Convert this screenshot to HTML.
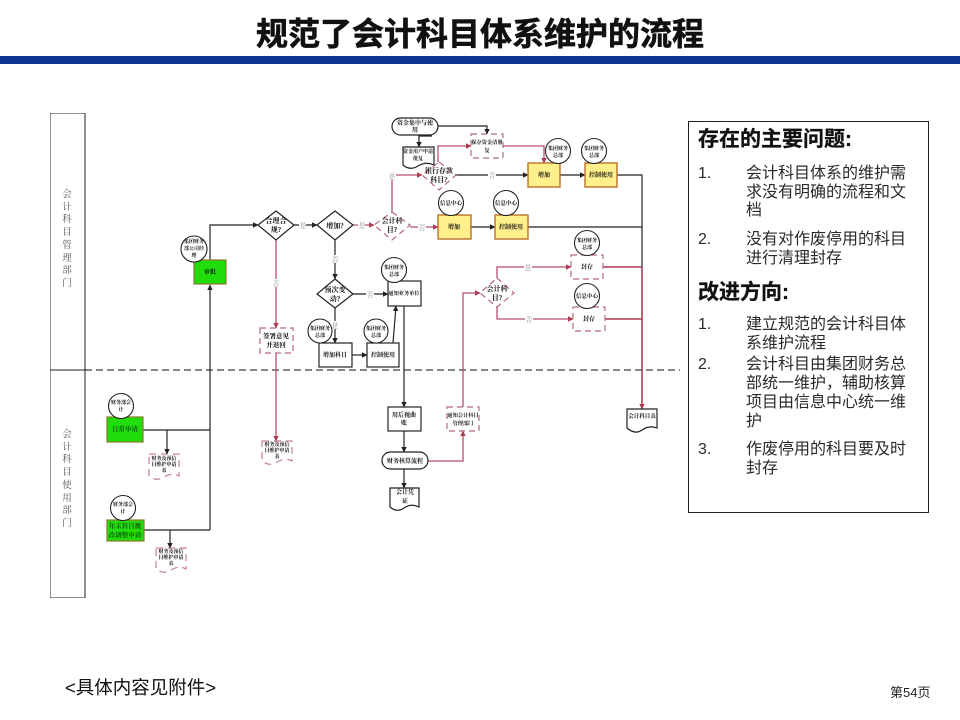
<!DOCTYPE html>
<html lang="zh"><head><meta charset="utf-8"><style>
html,body{margin:0;padding:0;background:#fff}
svg{display:block}
.s{font-family:"Liberation Sans","Noto Sans CJK SC",sans-serif}
.n{font-family:"Liberation Serif","Noto Serif CJK SC",serif;font-weight:700;font-size:6px;text-anchor:middle;fill:#111}
.m{font-size:7px}
.l{font-family:"Liberation Serif","Noto Serif CJK SC",serif;font-size:7px;text-anchor:middle;fill:#999}
.b{fill:#fff;stroke:#222;stroke-width:1.2}
.g{fill:#22dd11;stroke:#8a7a2a;stroke-width:1.2}
.y{fill:#fff08c;stroke:#b5651d;stroke-width:1.3}
.d{fill:#fff;stroke:#b56a80;stroke-width:1.2;stroke-dasharray:6 4}
.k{fill:none;stroke:#222;stroke-width:1.2}
.p{fill:none;stroke:#b8506a;stroke-width:1.3}
.q{fill:none;stroke:#a83a52;stroke-width:1.6}
.t{font-size:16px;fill:#2a2a2a}
.h{font-size:21px;font-weight:700;fill:#111;stroke:#111;stroke-width:.3}
.lane{font-family:"Liberation Serif","Noto Serif CJK SC",serif;font-size:9.5px;fill:#555;text-anchor:middle}
</style></head><body>
<svg class="s" width="960" height="720" viewBox="0 0 960 720" xmlns="http://www.w3.org/2000/svg">
<defs>
<marker id="a" markerWidth="6" markerHeight="6" refX="5" refY="3" orient="auto" markerUnits="userSpaceOnUse"><path d="M0,0.3L5.5,3L0,5.7z" fill="#222"/></marker>
<marker id="r" markerWidth="6" markerHeight="6" refX="5" refY="3" orient="auto" markerUnits="userSpaceOnUse"><path d="M0,0.3L5.5,3L0,5.7z" fill="#b03a55"/></marker>
<filter id="soft" x="0" y="0" width="100%" height="100%"><feGaussianBlur stdDeviation="0.3"/></filter>
</defs>
<rect width="960" height="720" fill="#fff"/>
<text x="480" y="45" text-anchor="middle" font-size="32" font-weight="700" fill="#111" stroke="#111" stroke-width=".6">规范了会计科目体系维护的流程</text>
<rect x="0" y="56" width="960" height="8" fill="#0c3590"/>

<g filter="url(#soft)">
<rect x="50" y="113" width="35" height="485" fill="#fff" stroke="#222" stroke-width="1"/>
<line x1="50" y1="370" x2="85" y2="370" stroke="#222"/>
<line x1="85" y1="370" x2="680" y2="370" stroke="#111" stroke-width="1.1" stroke-dasharray="7 4"/>
<g class="lane">
<text x="67" y="197">会</text><text x="67" y="210">计</text><text x="67" y="222">科</text><text x="67" y="235">目</text><text x="67" y="248">管</text><text x="67" y="261">理</text><text x="67" y="273">部</text><text x="67" y="286">门</text>
<text x="67" y="437">会</text><text x="67" y="450">计</text><text x="67" y="462">科</text><text x="67" y="475">目</text><text x="67" y="488">使</text><text x="67" y="501">用</text><text x="67" y="513">部</text><text x="67" y="526">门</text>
</g>

<!-- connectors -->
<path class="k" d="M210,260V225H258" marker-end="url(#a)"/>
<path class="k" d="M294,225H317" marker-end="url(#a)"/>
<path class="k" d="M210,530V285" marker-end="url(#a)"/>
<path class="k" d="M143,430H210"/>
<path class="k" d="M144,530H210"/>
<path class="k" d="M167,430V454" marker-end="url(#a)"/>
<path class="k" d="M170,530V548" marker-end="url(#a)"/>
<path class="k" d="M335,240V279" marker-end="url(#a)"/>
<path class="k" d="M353,294H388" marker-end="url(#a)"/>
<path class="k" d="M335,308V343" marker-end="url(#a)"/>
<path class="k" d="M352,355H367" marker-end="url(#a)"/>
<path class="k" d="M393,343L396,306" marker-end="url(#a)"/>
<path class="k" d="M404,306V407" marker-end="url(#a)"/>
<path class="k" d="M404,431V452" marker-end="url(#a)"/>
<path class="k" d="M404,469V488" marker-end="url(#a)"/>
<path class="k" d="M438,126H487V134" marker-end="url(#a)"/>
<path class="k" d="M432,136H419V147" marker-end="url(#a)"/>
<path class="k" d="M456,175H528" marker-end="url(#a)"/>
<path class="k" d="M560,175H585" marker-end="url(#a)"/>
<path class="k" d="M617,175H642V267"/>
<path class="k" d="M471,227H495" marker-end="url(#a)"/>
<path class="k" d="M528,227H642"/>
<path class="p" d="M276,240V328" marker-end="url(#r)"/>
<path class="p" d="M276,353V441" marker-end="url(#r)"/>
<path class="p" d="M353,225H374" marker-end="url(#r)"/>
<path class="p" d="M392,212V175H422" marker-end="url(#r)"/>
<path class="p" d="M410,227H438" marker-end="url(#r)"/>
<path class="p" d="M438,162V146H471" marker-end="url(#r)"/>
<path class="p" d="M503,146H544V163" marker-end="url(#r)"/>
<path class="p" d="M428,461H463V431" marker-end="url(#r)"/>
<path class="p" d="M463,407V293H480" marker-end="url(#r)"/>
<path class="p" d="M497,278V267H571" marker-end="url(#r)"/>
<path class="p" d="M497,307V319H573" marker-end="url(#r)"/>
<path class="q" d="M603,267H642M605,319H642M642,267V409" marker-end="url(#r)"/>

<!-- connector labels -->
<g>
<rect x="299" y="221" width="7" height="8" fill="#fff"/><text class="l" x="303" y="228">是</text>
<rect x="358" y="221" width="7" height="8" fill="#fff"/><text class="l" x="362" y="228">是</text>
<rect x="272" y="279" width="8" height="8" fill="#fff"/><text class="l" x="276" y="286">否</text>
<rect x="331" y="255" width="8" height="8" fill="#fff"/><text class="l" x="335" y="262">否</text>
<rect x="366" y="290" width="8" height="8" fill="#fff"/><text class="l" x="370" y="297">否</text>
<rect x="331" y="321" width="8" height="8" fill="#fff"/><text class="l" x="335" y="328">是</text>
<rect x="388" y="172" width="8" height="8" fill="#fff"/><text class="l" x="392" y="179">是</text>
<rect x="488" y="171" width="8" height="8" fill="#fff"/><text class="l" x="492" y="178">否</text>
<rect x="418" y="223" width="8" height="8" fill="#fff"/><text class="l" x="422" y="230">否</text>
<rect x="524" y="263" width="8" height="8" fill="#fff"/><text class="l" x="528" y="270">是</text>
<rect x="525" y="315" width="8" height="8" fill="#fff"/><text class="l" x="529" y="322">否</text>
</g>

<!-- terminators and documents -->
<rect class="b" x="392" y="118" width="46" height="17" rx="8.5"/>
<text class="n" x="415" y="125">资金集中与使</text><text class="n" x="415" y="132">用</text>
<path class="b" d="M403,147H434V165Q426,161 418,166T403,165Z"/>
<text class="n" x="418" y="153" style="font-size:5px">资金用户申请</text><text class="n" x="418" y="160" style="font-size:5px">批复</text>
<rect class="b" x="382" y="452" width="46" height="17" rx="8.5"/>
<text class="n" x="405" y="463">财务核算流程</text>
<path class="b" d="M390,488H419V507Q411,503 404,508T390,507Z"/>
<text class="n" x="405" y="494">会计凭</text><text class="n" x="405" y="503">证</text>
<path class="b" d="M627,409H657V428Q649,425 642,430T627,428Z"/>
<text class="n" x="642" y="418" style="font-size:5.5px">会计科目表</text>

<g fill="#fff" stroke="#b56a80" stroke-width="1" stroke-dasharray="7 5">
<path d="M149,454H179V476Q172,472 164,477T149,476Z"/>
<path d="M156,548H186V569Q179,565 171,570T156,569Z"/>
<path d="M262,441H292V461Q285,457 277,462T262,461Z"/>
</g>
<text class="n" x="164" y="460" style="font-size:5px">财务及预信</text><text class="n" x="164" y="466" style="font-size:5px">目维护申请</text><text class="n" x="164" y="472" style="font-size:5px">表</text>
<text class="n" x="171" y="553" style="font-size:5px">财务及预信</text><text class="n" x="171" y="559" style="font-size:5px">目维护申请</text><text class="n" x="171" y="565" style="font-size:5px">表</text>
<text class="n" x="277" y="446" style="font-size:5px">财务及预信</text><text class="n" x="277" y="452" style="font-size:5px">目维护申请</text><text class="n" x="277" y="458" style="font-size:5px">表</text>

<!-- diamonds -->
<polygon class="b" points="276,211 294,225 276,240 258,225"/>
<polygon class="b" points="335,211 353,225 335,240 317,225"/>
<polygon class="b" points="335,279 353,294 335,308 317,294"/>
<polygon class="d" points="392,212 410,225 392,240 374,225"/>
<polygon class="d" points="439,162 456,175 439,190 422,175"/>
<polygon class="d" points="497,278 514,293 497,307 480,293"/>
<text class="n m" x="276" y="223">合理合</text><text class="n m" x="276" y="232">规?</text>
<text class="n m" x="335" y="228">增加?</text>
<text class="n m" x="335" y="292">预次变</text><text class="n m" x="335" y="301">动?</text>
<text class="n m" x="392" y="223">会计科</text><text class="n m" x="392" y="232">目?</text>
<text class="n m" x="439" y="173">银行存款</text><text class="n m" x="439" y="182">科目?</text>
<text class="n m" x="497" y="291">会计科</text><text class="n m" x="497" y="300">目?</text>

<!-- boxes -->
<rect class="g" x="194" y="260" width="32" height="24"/><text class="n" x="210" y="274">审批</text>
<rect class="g" x="107" y="417" width="36" height="25"/><text class="n" x="125" y="431" style="font-size:6.5px;fill:#0a5a0a">日常申请</text>
<rect class="g" x="107" y="520" width="37" height="21"/><text class="n" x="125" y="528" style="font-size:6.5px;fill:#0a5a0a">年末科目概</text><text class="n" x="125" y="537" style="font-size:6.5px;fill:#0a5a0a">改调整申请</text>
<rect class="y" x="528" y="163" width="32" height="24"/><text class="n" x="544" y="177">增加</text>
<rect class="y" x="585" y="163" width="32" height="24"/><text class="n" x="601" y="177">控制使用</text>
<rect class="y" x="438" y="215" width="33" height="24"/><text class="n" x="454" y="229">增加</text>
<rect class="y" x="495" y="215" width="33" height="24"/><text class="n" x="511" y="229">控制使用</text>
<rect class="b" x="388" y="281" width="33" height="25"/><text class="n" x="404" y="295" style="font-size:5.2px">通知业务单位</text>
<rect class="b" x="319" y="343" width="33" height="24"/><text class="n" x="335" y="357">增加科目</text>
<rect class="b" x="367" y="343" width="32" height="24"/><text class="n" x="383" y="357">控制使用</text>
<rect class="b" x="388" y="407" width="33" height="24"/><text class="n" x="404" y="417">用后视曲</text><text class="n" x="404" y="425">账</text>
<rect class="d" x="260" y="328" width="33" height="25"/><text class="n" x="276" y="338" style="font-size:6.5px">签署意见</text><text class="n" x="276" y="347" style="font-size:6.5px">并退回</text>
<rect class="d" x="471" y="134" width="32" height="24"/><text class="n" x="487" y="144" style="font-size:5.2px">保存资金清册</text><text class="n" x="487" y="152" style="font-size:5.2px">复</text>
<rect class="d" x="447" y="407" width="32" height="24"/><text class="n" x="463" y="417" style="font-size:5.2px">通知会计科目</text><text class="n" x="463" y="425" style="font-size:5.2px">管理部门</text>
<rect class="d" x="571" y="255" width="32" height="24"/><text class="n" x="587" y="269">封存</text>
<rect class="d" x="573" y="307" width="32" height="24"/><text class="n" x="589" y="321">封存</text>

<!-- circles -->
<g fill="#fff" stroke="#222" stroke-width="1.1">
<circle cx="194" cy="249" r="13"/><circle cx="558" cy="151" r="12.5"/><circle cx="594" cy="151" r="12.5"/>
<circle cx="451" cy="203" r="12.5"/><circle cx="506" cy="203" r="12.5"/><circle cx="587" cy="243" r="12.5"/>
<circle cx="587" cy="296" r="12.5"/><circle cx="394" cy="270" r="12.5"/><circle cx="320" cy="331" r="12"/>
<circle cx="376" cy="331" r="12"/><circle cx="121" cy="406" r="12.5"/><circle cx="123" cy="508" r="12.5"/>
</g>
<g>
<text class="n" x="194" y="243" style="font-size:5px">集团财务</text><text class="n" x="194" y="250" style="font-size:5px">部公司经</text><text class="n" x="194" y="257" style="font-size:5px">理</text>
<text class="n" x="558" y="150" style="font-size:5px">集团财务</text><text class="n" x="558" y="157" style="font-size:5px">总部</text>
<text class="n" x="594" y="150" style="font-size:5px">集团财务</text><text class="n" x="594" y="157" style="font-size:5px">总部</text>
<text class="n" x="451" y="205" style="font-size:5.5px">信息中心</text>
<text class="n" x="506" y="205" style="font-size:5.5px">信息中心</text>
<text class="n" x="587" y="242" style="font-size:5px">集团财务</text><text class="n" x="587" y="249" style="font-size:5px">总部</text>
<text class="n" x="587" y="298" style="font-size:5.5px">信息中心</text>
<text class="n" x="394" y="269" style="font-size:5px">集团财务</text><text class="n" x="394" y="276" style="font-size:5px">总部</text>
<text class="n" x="320" y="330" style="font-size:5px">集团财务</text><text class="n" x="320" y="337" style="font-size:5px">总部</text>
<text class="n" x="376" y="330" style="font-size:5px">集团财务</text><text class="n" x="376" y="337" style="font-size:5px">总部</text>
<text class="n" x="121" y="404" style="font-size:5px">财务部会</text><text class="n" x="121" y="411" style="font-size:5px">计</text>
<text class="n" x="123" y="506" style="font-size:5px">财务部会</text><text class="n" x="123" y="513" style="font-size:5px">计</text>
</g>
</g>

<!-- right panel -->
<rect x="688.5" y="121.5" width="240" height="391" fill="#fff" stroke="#222" stroke-width="1"/>
<text class="h" x="698" y="146">存在的主要问题:</text>
<g class="t">
<text x="698" y="178">1.</text><text x="746" y="178">会计科目体系的维护需</text><text x="746" y="197">求没有明确的流程和文</text><text x="746" y="215">档</text>
<text x="698" y="244">2.</text><text x="746" y="244">没有对作废停用的科目</text><text x="746" y="263">进行清理封存</text>
</g>
<text class="h" x="698" y="299">改进方向:</text>
<g class="t">
<text x="698" y="329">1.</text><text x="746" y="329">建立规范的会计科目体</text><text x="746" y="348">系维护流程</text>
<text x="698" y="369">2.</text><text x="746" y="369">会计科目由集团财务总</text><text x="746" y="388">部统一维护，辅助核算</text><text x="746" y="407">项目由信息中心统一维</text><text x="746" y="426">护</text>
<text x="698" y="454">3.</text><text x="746" y="454">作废停用的科目要及时</text><text x="746" y="473">封存</text>
</g>
<text x="65" y="694" font-size="18.5" fill="#111">&lt;具体内容见附件&gt;</text>
<text x="890" y="697" font-size="13" fill="#222">第54页</text>
</svg>
</body></html>
